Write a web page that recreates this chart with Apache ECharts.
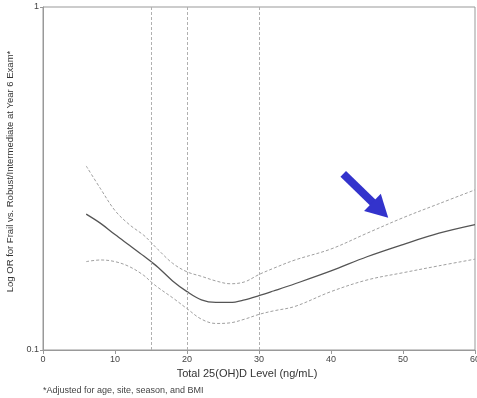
<!DOCTYPE html>
<html><head><meta charset="utf-8">
<script src="https://cdn.jsdelivr.net/npm/echarts@6/dist/echarts.min.js"></script>
<style>html,body{margin:0;padding:0;background:#fff}#c{width:477px;height:398px}</style>
</head><body><div id="c"></div>
<script>
var xVals   = [6, 8, 10, 12, 14, 15, 16, 18, 20, 22, 24, 26, 28, 30, 32, 35, 40, 45, 50, 55, 60];
var orMain  = [0.249, 0.234, 0.217, 0.202, 0.188, 0.181, 0.174, 0.159, 0.148, 0.140, 0.1376, 0.1376, 0.140, 0.144, 0.1486, 0.156, 0.170, 0.187, 0.203, 0.219, 0.232];
var orUpper = [0.344, 0.295, 0.255, 0.232, 0.216, 0.206, 0.196, 0.179, 0.169, 0.164, 0.159, 0.156, 0.158, 0.166, 0.173, 0.183, 0.197, 0.219, 0.243, 0.267, 0.293];
var orLower = [0.181, 0.183, 0.181, 0.175, 0.165, 0.158, 0.152, 0.142, 0.132, 0.123, 0.1195, 0.120, 0.123, 0.127, 0.130, 0.134, 0.148, 0.160, 0.168, 0.176, 0.184];
var refLines = [15, 20, 30];
var xTicks = [0, 10, 20, 30, 40, 50, 60];
var yTicks = [0.1, 1];
var arrowFrom = [41.7, 0.326];
var arrowTo = [46.85, 0.256];

function pairs(ys){ return xVals.map(function(x,i){ return [x, ys[i]]; }); }

var chart = echarts.init(document.getElementById('c'), null, {renderer:'canvas'});
var font = 'Liberation Sans';
chart.setOption({
  animation: false,
  backgroundColor: '#fff',
  grid: {left: 43, right: 2, top: 7, bottom: 48, show: true, borderColor: '#999', borderWidth: 1,
         containLabel: false, outerBoundsMode: 'none'},
  xAxis: {
    type: 'value', min: 0, max: 60, interval: 10,
    name: 'Total 25(OH)D Level (ng/mL)', nameLocation: 'middle', nameGap: 18,
    nameTextStyle: {fontFamily: font, fontSize: 11, color: '#333', padding: [0, 24, 0, 0]},
    axisLine: {show: true, lineStyle: {color: '#999'}},
    axisTick: {show: true, length: 4, lineStyle: {color: '#999'}},
    axisLabel: {fontFamily: font, fontSize: 9, color: '#444', margin: 5, hideOverlap: false,
      formatter: function(v){ return xTicks.indexOf(v) >= 0 ? String(v) : ''; }},
    splitLine: {show: false}
  },
  yAxis: {
    type: 'log', logBase: 10, min: 0.1, max: 1,
    name: 'Log OR for Frail vs. Robust/Intermediate at Year 6 Exam*', nameLocation: 'middle', nameGap: 25,
    nameTextStyle: {fontFamily: font, fontSize: 9.5, color: '#333', padding: [0, 0, 0, 14]},
    axisLine: {show: true, lineStyle: {color: '#999'}},
    axisTick: {show: true, length: 3, lineStyle: {color: '#999'}},
    minorTick: {show: false},
    axisLabel: {fontFamily: font, fontSize: 9, color: '#444', margin: 4,
      formatter: function(v){ return yTicks.some(function(t){return Math.abs(t-v)<1e-9;}) ? String(v) : ''; }},
    splitLine: {show: false}
  },
  series: [
    {type: 'line', data: pairs(orUpper), smooth: 0.35, symbol: 'none',
     lineStyle: {color: '#a0a0a0', width: 1, type: [3, 2]}},
    {type: 'line', data: pairs(orLower), smooth: 0.35, symbol: 'none',
     lineStyle: {color: '#a0a0a0', width: 1, type: [3, 2]}},
    {type: 'line', data: pairs(orMain), smooth: 0.35, symbol: 'none',
     lineStyle: {color: '#555', width: 1.3},
     markLine: {silent: true, symbol: 'none', label: {show: false},
       lineStyle: {color: '#b0b0b0', width: 1, type: [3, 2]},
       data: refLines.map(function(x){ return {xAxis: x}; })}},
    {type: 'line', data: [], symbol: 'none',
     markLine: {silent: true, symbol: ['none', 'triangle'], symbolSize: [24, 22], label: {show: false},
       lineStyle: {color: '#3333cc', width: 8, type: 'solid', cap: 'butt', opacity: 1},
       itemStyle: {color: '#3333cc'},
       data: [[{coord: arrowFrom}, {coord: arrowTo}]]}}
  ],
  graphic: [
    {type: 'text', left: 43, top: 386, style: {text: '*Adjusted for age, site, season, and BMI', font: '9px "Liberation Sans"', fill: '#444'}}
  ]
});
</script></body></html>
